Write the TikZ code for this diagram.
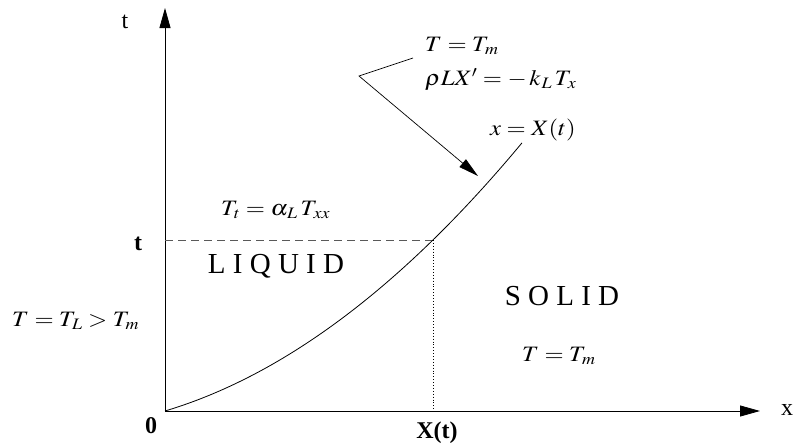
\documentclass[tikz,border=0pt]{standalone}
\usepackage{mathptmx}
\usepackage[no-math]{fontspec}
\setmainfont{Liberation Serif}
\usetikzlibrary{arrows.meta}
\newcommand\sbs[1]{_{\kern1pt\mbox{\fontsize{16}{18}\selectfont$#1$}}}
\newcommand\wmath[1]{\scalebox{1.12}[1]{$#1$}}
\begin{document}
\begin{tikzpicture}[x=1pt,y=-1pt,
  axis/.style={line width=0.8pt, -{Triangle[length=20pt,width=11pt]}},
  mlab/.style={inner sep=0pt, anchor=base west, font=\fontsize{22}{26}\selectfont},
  region/.style={inner sep=0pt, anchor=base, font=\fontsize{29}{34}\selectfont},
  blab/.style={inner sep=0pt, anchor=base, font=\fontsize{24}{28}\selectfont\bfseries},
  alab/.style={inner sep=0pt, anchor=base, font=\fontsize{24}{28}\selectfont},
  thin line/.style={line width=0.7pt}]
\useasboundingbox (0,0) rectangle (796,447);
\coordinate (O) at (165,411);
\coordinate (xend) at (760,411);
\coordinate (yend) at (165,8);
\coordinate (P) at (433,240);
\coordinate (Pt) at (165,240);
\coordinate (Px) at (433,411);
\draw[axis] (O) -- (xend);
\draw[axis] (O) -- (yend);
\draw[dash pattern=on 8pt off 5pt, black!65, line width=0.7pt] (Pt) -- (P);
\draw[dotted, line width=0.9pt] (P) -- (Px);
\draw[line width=0.8pt] plot[domain=0:357,samples=80] ({165+\x},{411-0.001266*\x*\x-0.299*\x});
\node[alab] (tlab) at (125,28) {t};
\node[alab] (xlab) at (787,415) {x};
\node[blab] (tt) at (138,250) {t};
\node[blab] (zero) at (151,433) {0};
\node[blab] (Xt) at (437,438) {X(t)};
\node[mlab] (bc1) at (425,51) {\wmath{T = T\sbs{m}}};
\node[mlab] (bc2) at (425,85) {\wmath{\rho L X' = -\,k\sbs{L}\,T\sbs{x}}};
\node[mlab] (front) at (490,135) {\wmath{x = X(t)}};
\node[mlab] (heat) at (221,215) {\wmath{T\sbs{t} = \alpha\sbs{L}\,T\sbs{xx}}};
\node[mlab] (TL) at (12,326) {\wmath{T = T\sbs{L} > T\sbs{m}}};
\node[region] (liq) at (276,273) {L I Q U I D};
\node[region] (sol) at (562,305) {S O L I D};
\node[mlab] (Tm) at (522,361) {\wmath{T = T\sbs{m}}};
\coordinate (p1) at (413,58);
\coordinate (p2) at (359,76);
\coordinate (p3) at (478,176);
\draw[thin line, -{Triangle[length=20pt,width=10pt]}] (p1) -- (p2) -- (p3);
\end{tikzpicture}
\end{document}
